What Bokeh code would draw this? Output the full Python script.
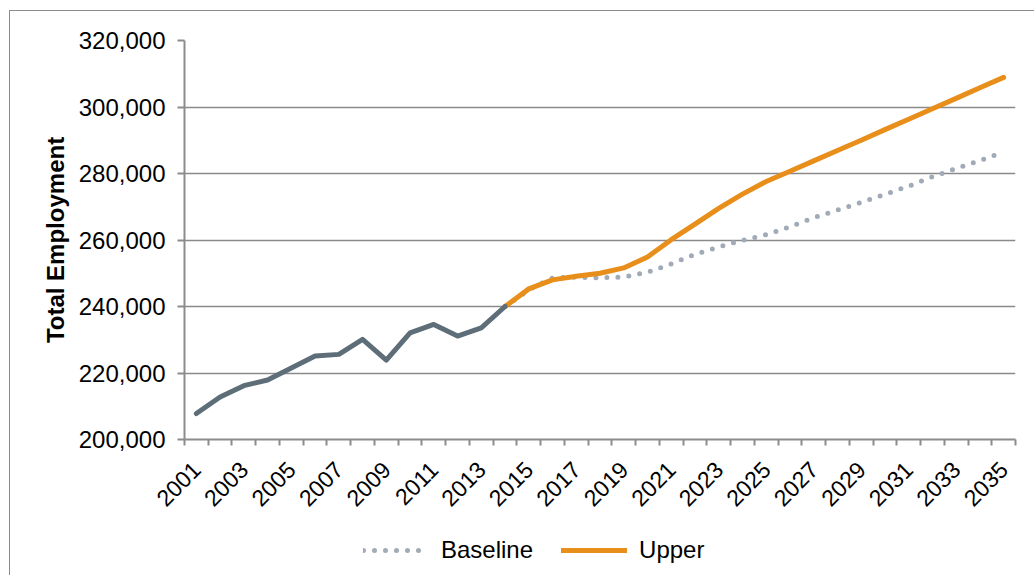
import math
from bokeh.plotting import figure
from bokeh.layouts import column
from bokeh.models import Range1d, FixedTicker, NumeralTickFormatter, Legend, LegendItem
from bokeh.embed import file_html
from bokeh.resources import INLINE

# ---- data ----
hist_years = list(range(2001, 2015))
historical = [207800, 212800, 216200, 217900, 221500, 225100, 225600,
              230100, 223900, 232100, 234600, 231100, 233600, 240000]

fc_years = list(range(2014, 2036))
baseline = [240000, 245000, 248600, 248800, 248600, 248900, 250300,
            252800, 255700, 257900, 259900, 261600, 264000, 266700,
            269000, 271300, 273700, 276200, 279000, 281500, 283900, 286500]
upper = [240000, 245300, 248000, 249100, 250000, 251600, 254900,
         260100, 264800, 269500, 273800, 277600, 280700, 283800,
         286900, 290000, 293200, 296300, 299500, 302600, 305800, 308900]

all_years = list(range(2001, 2036))
label_years = all_years[::2]
y_ticks = [200000, 220000, 240000, 260000, 280000, 300000, 320000]

FONT = "Liberation Sans"
AX = "#8c8c8c"
BASE_STYLE = dict(line_color="#A0ABB7", line_width=5, line_dash="0 11", line_cap="round")
UP_STYLE = dict(line_color="#E88E1A", line_width=5, line_join="round", line_cap="round")
HIST_STYLE = dict(line_color="#5E6E78", line_width=5, line_join="round", line_cap="round")

p = figure(width=1024, height=520, output_backend="svg", toolbar_location=None,
           x_range=Range1d(all_years[0] - 0.5, all_years[-1] + 0.5),
           y_range=Range1d(y_ticks[0], y_ticks[-1]),
           min_border_left=174, min_border_right=19,
           min_border_top=29, min_border_bottom=92)
p.outline_line_color = None
p.background_fill_color = "white"
p.border_fill_color = "white"

# x axis
xa = p.xaxis[0]
xa.ticker = FixedTicker(ticks=label_years,
                        minor_ticks=[y - 0.5 for y in all_years] + [all_years[-1] + 0.5])
xa.major_tick_out = 0
xa.major_tick_in = 0
xa.minor_tick_out = 6
xa.minor_tick_in = 0
xa.minor_tick_line_color = AX
xa.minor_tick_line_width = 2
xa.axis_line_color = AX
xa.axis_line_width = 2
xa.major_label_orientation = math.pi / 4
xa.major_label_text_font = FONT
xa.major_label_text_font_size = "23px"
xa.major_label_text_color = "#000000"
xa.major_label_standoff = 20

# y axis
ya = p.yaxis[0]
ya.ticker = FixedTicker(ticks=y_ticks)
ya.formatter = NumeralTickFormatter(format="0,0")
ya.major_tick_out = 7
ya.major_tick_in = 0
ya.major_tick_line_color = AX
ya.major_tick_line_width = 2
ya.minor_tick_line_color = None
ya.axis_line_color = AX
ya.axis_line_width = 2
ya.major_label_text_font = FONT
ya.major_label_text_font_size = "24px"
ya.major_label_text_color = "#000000"
ya.major_label_standoff = 12
ya.axis_label = "Total Employment"
ya.axis_label_text_font = FONT
ya.axis_label_text_font_style = "bold"
ya.axis_label_text_font_size = "24px"
ya.axis_label_text_color = "#000000"
ya.axis_label_standoff = 7

p.xgrid.visible = False
p.ygrid.grid_line_color = "#8a8a8a"
p.ygrid.grid_line_width = 1.5

# series
p.line(fc_years, baseline, **BASE_STYLE)
p.line(fc_years, upper, **UP_STYLE)
p.line(hist_years, historical, **HIST_STYLE)

# legend strip below the chart (frames are aligned with the chart above)
lg = figure(width=1024, height=44, output_backend="svg", toolbar_location=None,
            x_range=Range1d(0, 1), y_range=Range1d(0, 1),
            min_border_left=0, min_border_right=0, min_border_top=0, min_border_bottom=0)
lg.xaxis.visible = False
lg.yaxis.visible = False
lg.xgrid.visible = False
lg.ygrid.visible = False
lg.outline_line_color = None
lg.border_fill_color = "white"
# single-point placeholders: a one-point line draws nothing, but gives the legend its style
lb = lg.line([-1], [-1], **BASE_STYLE)
lu = lg.line([-1], [-1], **UP_STYLE)
legend = Legend(items=[LegendItem(label="Baseline", renderers=[lb]),
                       LegendItem(label="Upper", renderers=[lu])],
                orientation="horizontal", location=(179, 11),
                glyph_width=66, glyph_height=20, label_standoff=12, spacing=28,
                padding=0, margin=0, border_line_color=None,
                background_fill_alpha=0,
                label_text_font=FONT, label_text_font_size="24px",
                label_text_color="#000000")
lg.add_layout(legend, "center")

layout = column(p, lg, spacing=0)
layout.styles = {"margin-left": "9px", "margin-top": "10px",
                 "border-left": "1px solid #8c8c8c", "border-top": "1px solid #8c8c8c"}

open("out.html", "w").write(file_html(layout, INLINE))
